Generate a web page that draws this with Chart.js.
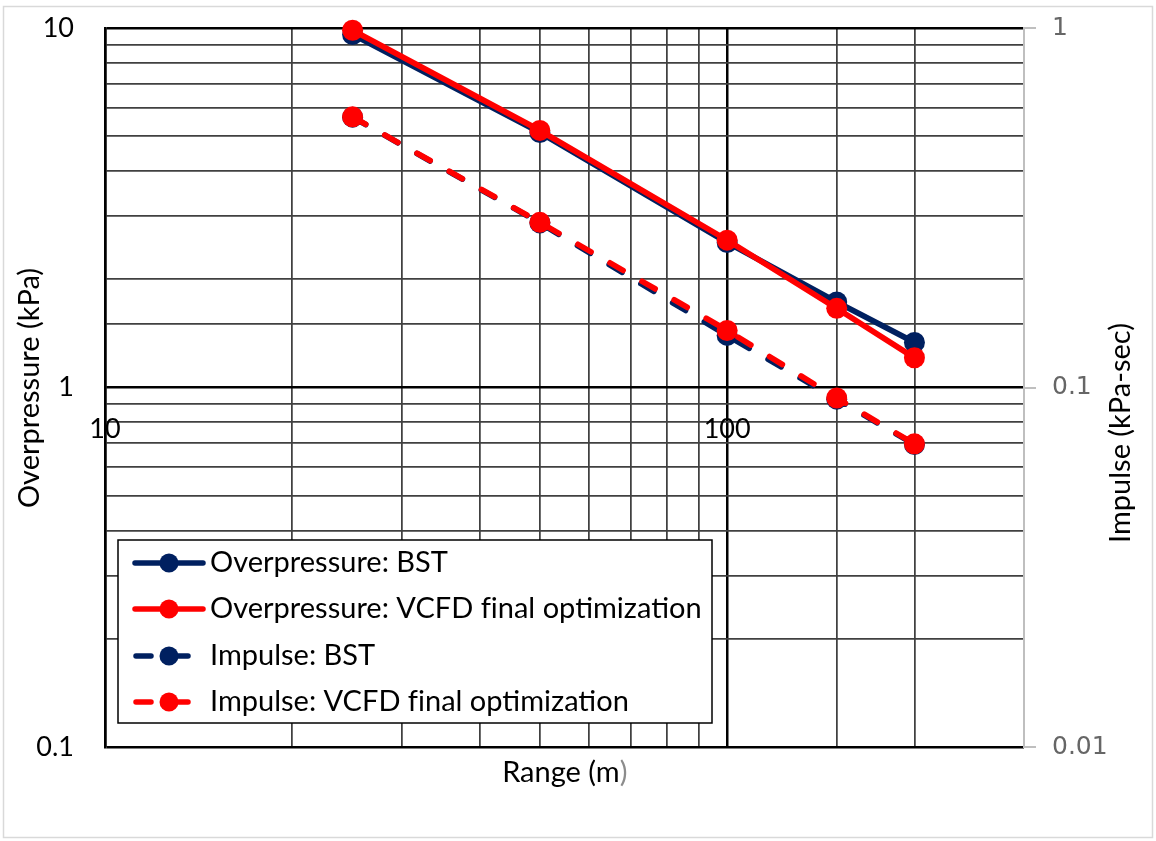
<!DOCTYPE html>
<html>
<head>
<meta charset="utf-8">
<script src="https://cdn.jsdelivr.net/npm/chart.js@4.4.1/dist/chart.umd.min.js"></script>
<style>
  html, body { margin: 0; padding: 0; background: #ffffff; }
  canvas { display: block; }
</style>
</head>
<body>
<canvas id="blastChart" width="1156" height="841"></canvas>
<script>
// Range from the ignition point (m)
const rangeM = [25, 50, 100, 150, 200];

// Peak side-on overpressure (kPa), left axis
const overpressureBST  = [9.59, 5.12, 2.53, 1.73, 1.335];
const overpressureVCFD = [9.86, 5.19, 2.57, 1.66, 1.21];

// Positive-phase impulse (kPa-sec), right axis
const impulseBST  = [0.565, 0.287, 0.1396, 0.0928, 0.0694];
const impulseVCFD = [0.566, 0.288, 0.1441, 0.0935, 0.0697];

const seriesNames = [
  'Overpressure: BST',
  'Overpressure: VCFD final optimization',
  'Impulse: BST',
  'Impulse: VCFD final optimization'
];

// Labelled decades on each axis
const rangeTickLabels = [10, 100];
const rangeLimits = [10, 300];
const overpressureLimits = [0.1, 10];
const impulseLimits = [0.01, 1];

const xTitle = 'Range (m';
const xTitleTail = ')';
const leftTitle = 'Overpressure (kPa)';
const rightTitle = 'Impulse (kPa-sec)';

const NAVY = '#002060';
const RED = '#ff0000';
const TEXT_FONT = 'Lato, "Open Sans", sans-serif';

function isDecade(v) {
  const l = Math.log10(v);
  return Math.abs(l - Math.round(l)) < 1e-6;
}
function fmtDecade(v) {
  return String(Number(v.toPrecision(1)));
}
function pairs(ys) {
  return rangeM.map((x, i) => ({ x: x, y: ys[i] }));
}
// keep "f" and "i" as separate glyphs
function noLigature(s) {
  return s.replace(/fi/g, 'f\u200Ci');
}

function seriesStyle(color, dashed, order) {
  return {
    borderColor: color,
    backgroundColor: color,
    pointBackgroundColor: color,
    pointBorderColor: color,
    pointBorderWidth: 0,
    pointRadius: 10.5,
    pointHoverRadius: 10.5,
    borderWidth: 5.75,
    borderDash: dashed ? [15, 22] : [],
    borderCapStyle: dashed ? 'round' : 'butt',
    borderJoinStyle: 'round',
    tension: 0,
    fill: false,
    clip: false,
    order: order
  };
}

const chartDecor = {
  id: 'chartDecor',
  afterDraw(chart) {
    const ctx = chart.ctx;
    const xs = chart.scales.x;
    const yl = chart.scales.y;
    const mid = (chart.chartArea.left + chart.chartArea.right) / 2;
    ctx.save();

    // outer frame of the chart area
    ctx.strokeStyle = '#d9d9d9';
    ctx.lineWidth = 1.5;
    ctx.strokeRect(3.5, 6.5, 1149, 831);

    // range tick labels sit under the 1 kPa line
    ctx.fillStyle = '#000';
    ctx.font = '27px ' + TEXT_FONT;
    ctx.textAlign = 'center';
    ctx.textBaseline = 'middle';
    const labelY = yl.getPixelForValue(1) + 42;
    rangeTickLabels.forEach(v => {
      ctx.fillText(String(v), xs.getPixelForValue(v), labelY);
    });

    // axis titles
    ctx.font = '29px ' + TEXT_FONT;
    ctx.save();
    ctx.translate(30, 388);
    ctx.rotate(-Math.PI / 2);
    ctx.fillText(leftTitle, 0, 0);
    ctx.restore();

    ctx.save();
    ctx.translate(1121, 433);
    ctx.rotate(-Math.PI / 2);
    ctx.fillText(rightTitle, 0, 0);
    ctx.restore();

    const full = ctx.measureText(xTitle + xTitleTail).width;
    const head = ctx.measureText(xTitle).width;
    const startX = mid - full / 2;
    ctx.textAlign = 'left';
    ctx.fillStyle = '#000';
    ctx.fillText(xTitle, startX, 773);
    ctx.fillStyle = '#8c8c8c';
    ctx.fillText(xTitleTail, startX + head, 773);

    // legend box
    const box = { x: 118, y: 540, w: 594, h: 183 };
    ctx.fillStyle = '#fff';
    ctx.fillRect(box.x, box.y, box.w, box.h);
    ctx.strokeStyle = '#000';
    ctx.lineWidth = 1.5;
    ctx.strokeRect(box.x, box.y, box.w, box.h);

    const rowY = [563, 609, 656, 702];
    chart.data.datasets.forEach((ds, i) => {
      const y = rowY[i];
      const dashed = ds.borderDash && ds.borderDash.length > 0;
      ctx.strokeStyle = ds.borderColor;
      ctx.lineWidth = 5.5;
      ctx.lineCap = 'round';
      ctx.setLineDash(dashed ? [15, 22] : []);
      ctx.beginPath();
      ctx.moveTo(dashed ? 136 : 135, y);
      ctx.lineTo(dashed ? 190 : 203, y);
      ctx.stroke();
      ctx.setLineDash([]);
      ctx.fillStyle = ds.borderColor;
      ctx.beginPath();
      ctx.arc(169, y, 9.5, 0, Math.PI * 2);
      ctx.fill();
      ctx.fillStyle = '#000';
      ctx.font = '29px ' + TEXT_FONT;
      ctx.textAlign = 'left';
      ctx.textBaseline = 'middle';
      ctx.fillText(noLigature(ds.label), 210, y);
    });

    ctx.restore();
  }
};

const gridColor = c => {
  const v = c.tick.value;
  if (v >= rangeLimits[1] - 1e-9 && c.scale.axis === 'x') return 'rgba(0,0,0,0)';
  return isDecade(v) ? '#000000' : '#404040';
};
const gridWidth = c => (isDecade(c.tick.value) ? 2.5 : 1.75);
const noOverflowPadding = s => { s.paddingTop = 0; s.paddingBottom = 0; };

new Chart(document.getElementById('blastChart'), {
  type: 'line',
  data: {
    datasets: [
      Object.assign({ label: seriesNames[0], data: pairs(overpressureBST), yAxisID: 'y' }, seriesStyle(NAVY, false, 3)),
      Object.assign({ label: seriesNames[1], data: pairs(overpressureVCFD), yAxisID: 'y' }, seriesStyle(RED, false, 1)),
      Object.assign({ label: seriesNames[2], data: pairs(impulseBST), yAxisID: 'y2' }, seriesStyle(NAVY, true, 2)),
      Object.assign({ label: seriesNames[3], data: pairs(impulseVCFD), yAxisID: 'y2' }, seriesStyle(RED, true, 0))
    ]
  },
  options: {
    responsive: false,
    animation: false,
    devicePixelRatio: 1,
    layout: { padding: { top: 28, left: 0, right: 0, bottom: 0 } },
    plugins: {
      legend: { display: false },
      tooltip: { enabled: false }
    },
    scales: {
      x: {
        type: 'logarithmic',
        position: 'bottom',
        min: rangeLimits[0],
        max: rangeLimits[1],
        afterFit(s) { s.height = 94; s.paddingLeft = 0; s.paddingRight = 0; },
        ticks: { display: false, autoSkip: false },
        grid: { drawTicks: false, color: gridColor, lineWidth: gridWidth },
        border: { display: false }
      },
      y: {
        type: 'logarithmic',
        position: 'left',
        min: overpressureLimits[0],
        max: overpressureLimits[1],
        afterFit(s) { s.width = 105; noOverflowPadding(s); },
        ticks: {
          autoSkip: false,
          padding: 31,
          color: '#000',
          font: { family: TEXT_FONT, size: 27 },
          callback: v => (isDecade(v) ? fmtDecade(v) : '')
        },
        grid: { drawTicks: false, color: gridColor, lineWidth: gridWidth },
        border: { display: true, color: '#000', width: 2.5 }
      },
      y2: {
        type: 'logarithmic',
        position: 'right',
        min: impulseLimits[0],
        max: impulseLimits[1],
        afterFit(s) { s.width = 132; noOverflowPadding(s); },
        ticks: {
          autoSkip: false,
          padding: 16,
          color: '#666666',
          font: { family: '"DejaVu Sans", sans-serif', size: 25 },
          callback: v => (isDecade(v) ? fmtDecade(v) : '')
        },
        grid: {
          drawOnChartArea: false,
          drawTicks: true,
          tickLength: 12,
          lineWidth: 2,
          color: c => (isDecade(c.tick.value) ? '#bfbfbf' : 'rgba(0,0,0,0)'),
          tickColor: c => (isDecade(c.tick.value) ? '#bfbfbf' : 'rgba(0,0,0,0)')
        },
        border: { display: true, color: '#bfbfbf', width: 2 }
      }
    }
  },
  plugins: [chartDecor]
});
</script>
</body>
</html>
